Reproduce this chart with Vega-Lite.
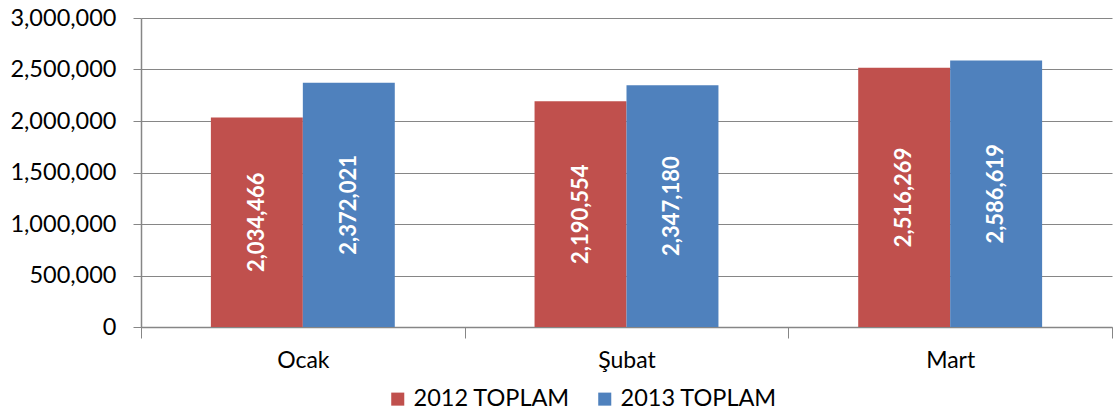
{
  "$schema": "https://vega.github.io/schema/vega-lite/v6.json",
  "autosize": {"type": "none"},
  "width": 971,
  "height": 309,
  "padding": {"left": 141, "top": 18, "right": 3, "bottom": 86},
  "background": "white",
  "config": {
    "view": {"stroke": null},
    "font": "Lato",
    "axis": {"labelFont": "Lato", "labelColor": "#000000"},
    "legend": {"labelFont": "Lato"}
  },
  "data": {
    "values": [
      {"month": "Ocak", "series": "2012 TOPLAM", "value": 2034466},
      {"month": "Ocak", "series": "2013 TOPLAM", "value": 2372021},
      {"month": "Şubat", "series": "2012 TOPLAM", "value": 2190554},
      {"month": "Şubat", "series": "2013 TOPLAM", "value": 2347180},
      {"month": "Mart", "series": "2012 TOPLAM", "value": 2516269},
      {"month": "Mart", "series": "2013 TOPLAM", "value": 2586619}
    ]
  },
  "encoding": {
    "x": {
      "field": "month",
      "type": "nominal",
      "sort": ["Ocak", "Şubat", "Mart"],
      "scale": {"paddingInner": 0, "paddingOuter": 0},
      "axis": {
        "title": null,
        "labelAngle": 0,
        "labelFontSize": 23,
        "labelPadding": 11,
        "tickBand": "extent",
        "tickSize": 11,
        "tickColor": "#868686",
        "domainColor": "#868686",
        "domainWidth": 1.5,
        "grid": false
      }
    },
    "xOffset": {
      "field": "series",
      "type": "nominal",
      "scale": {"paddingOuter": 0.76, "paddingInner": 0}
    }
  },
  "layer": [
    {
      "mark": {"type": "bar"},
      "encoding": {
        "y": {
          "field": "value",
          "type": "quantitative",
          "scale": {"domain": [0, 3000000], "nice": false},
          "axis": {
            "title": null,
            "values": [0, 500000, 1000000, 1500000, 2000000, 2500000, 3000000],
            "format": ",d",
            "labelFontSize": 23.5,
            "labelPadding": 17,
            "tickSize": 8,
            "tickColor": "#868686",
            "domainColor": "#868686",
            "domainWidth": 1.5,
            "gridColor": "#868686",
            "gridWidth": 1.2
          }
        },
        "color": {
          "field": "series",
          "type": "nominal",
          "scale": {"domain": ["2012 TOPLAM", "2013 TOPLAM"], "range": ["#C0504D", "#4F81BD"]},
          "legend": {
            "title": null,
            "orient": "none",
            "direction": "horizontal",
            "legendX": 245,
            "legendY": 369,
            "padding": 0,
            "symbolType": "square",
            "symbolSize": 170,
            "symbolStrokeWidth": 0,
            "labelFontSize": 23.5,
            "labelColor": "#000000",
            "columnPadding": 23
          }
        }
      }
    },
    {
      "mark": {"type": "text", "angle": 270, "align": "center", "baseline": "middle", "color": "white", "fontWeight": "bold", "fontSize": 22},
      "encoding": {
        "y": {
          "field": "value",
          "type": "quantitative",
          "scale": {"domain": [0, 6000000], "nice": false},
          "axis": null
        },
        "text": {"field": "value", "type": "quantitative", "format": ",d"}
      }
    }
  ],
  "resolve": {"scale": {"y": "independent"}}
}
